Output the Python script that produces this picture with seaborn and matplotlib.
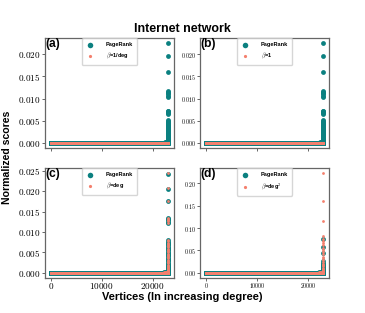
import numpy as np
import matplotlib
matplotlib.use("Agg")
import matplotlib.pyplot as plt
from matplotlib.ticker import FuncFormatter, MultipleLocator
import seaborn as sns

#%% data (scores sorted by vertex degree)

n_vertices = 22963

# ranks counted from the highest-degree vertex for the small rise before the column
elbow_ranks = [1100, 800, 550, 350, 200, 100]

# (a) and (b): PageRank, highest scores first
pagerank_ab_base = 2.2e-5
pagerank_ab_elbow = [5e-5, 7e-5, 9e-5, 1.2e-4, 1.5e-4, 1.9e-4]
pagerank_ab_top = [0.0226, 0.0197, 0.0160, 0.0118, 0.0116, 0.0113, 0.0110, 0.0107,
                   0.0104, 0.0073, 0.0071, 0.0069, 0.0067, 0.0065, 0.0051, 0.0049,
                   0.0047, 0.0045, 0.0043, 0.0041, 0.0039, 0.0037, 0.0035, 0.0033,
                   0.0031, 0.0029, 0.0027, 0.0025, 0.0023, 0.0021, 0.0019, 0.0017,
                   0.0015, 0.0013, 0.0011, 0.0009, 0.0008, 0.0007, 0.0006, 0.0005,
                   0.0004, 0.0003, 0.0002]

# (a) beta = 1/deg and (b) beta = 1 stay flat
beta_inv_deg_base = 4.5e-5
beta_one_base = 4.35e-5

# (c) beta = deg
pagerank_c_base = 2.0e-5
pagerank_c_elbow = [5e-5, 7e-5, 1.0e-4, 1.3e-4, 1.7e-4, 2.2e-4]
pagerank_c_top = [0.0243, 0.0205, 0.0175, 0.0134, 0.0131, 0.0128, 0.0125, 0.0122,
                  0.0079, 0.0076, 0.0073, 0.0070, 0.0067, 0.0064, 0.0061, 0.0058,
                  0.0055, 0.0052, 0.0049, 0.0046, 0.0043, 0.0040, 0.0037, 0.0034,
                  0.0031, 0.0028, 0.0025, 0.0022, 0.0019, 0.0016, 0.0013, 0.0011,
                  0.0009, 0.0007, 0.0005, 0.0004, 0.0003, 0.0002]
beta_deg_base = 2.0e-5
beta_deg_elbow = [5e-5, 7e-5, 1.0e-4, 1.3e-4, 1.7e-4, 2.2e-4]
beta_deg_top = [0.0245, 0.0207, 0.0175, 0.0135, 0.0132, 0.0129, 0.0126, 0.0123,
                0.0080, 0.0077, 0.0074, 0.0071, 0.0068, 0.0065, 0.0062, 0.0059,
                0.0056, 0.0053, 0.0050, 0.0047, 0.0044, 0.0041, 0.0038, 0.0035,
                0.0032, 0.0029, 0.0026, 0.0023, 0.0020, 0.0017, 0.0014, 0.0011,
                0.0009, 0.0007, 0.0005, 0.0004, 0.0003, 0.0002]

# (d) beta = deg^2
pagerank_d_base = 1.5e-5
pagerank_d_elbow = [3e-4, 5e-4, 7e-4, 1.0e-3, 1.4e-3, 2.0e-3]
pagerank_d_top = [0.0750, 0.0580, 0.0430, 0.0250, 0.0225, 0.0200, 0.0180, 0.0160,
                  0.0140, 0.0120, 0.0100, 0.0085, 0.0070, 0.0055, 0.0045, 0.0035,
                  0.0025, 0.0018, 0.0012, 0.0008, 0.0005]
beta_deg2_base = 1.0e-5
beta_deg2_elbow = [3e-4, 5e-4, 7e-4, 1.0e-3, 1.4e-3, 2.0e-3]
beta_deg2_top = [0.2240, 0.1600, 0.1155, 0.0820, 0.0760, 0.0700, 0.0660, 0.0620,
                 0.0560, 0.0510, 0.0460, 0.0410, 0.0360, 0.0320, 0.0280, 0.0240,
                 0.0200, 0.0170, 0.0140, 0.0110, 0.0085, 0.0065, 0.0045, 0.0030]

panel_tags = ["(a)", "(b)", "(c)", "(d)"]
beta_labels = [r"$\beta$=1/deg", r"$\beta$=1", r"$\beta$=deg", r"$\beta$=deg$^2$"]
ytick_step = [0.005, 0.005, 0.005, 0.05]
ytick_decimals = [3, 3, 3, 2]
xtick_values = [0, 10000, 20000]


def build_scores(base, elbow, top):
    s = np.full(n_vertices, base)
    for r, v in zip(elbow_ranks, elbow):
        s[n_vertices - r] = v
    s[n_vertices - len(top):] = top[::-1]
    return s


#%% setup

sns.set_theme(style="ticks")
plt.rcParams["font.family"] = ["Liberation Sans", "DejaVu Sans"]
plt.rcParams["mathtext.fontset"] = "cm"
plt.rcParams["axes.edgecolor"] = "0.4"
plt.rcParams["axes.linewidth"] = 0.9
plt.rcParams["text.color"] = "black"
plt.rcParams["xtick.labelcolor"] = "black"
plt.rcParams["ytick.labelcolor"] = "black"

teal = "#0b8080"
salmon = "#f4806e"

panels = [
    (build_scores(pagerank_ab_base, pagerank_ab_elbow, pagerank_ab_top),
     np.full(n_vertices, beta_inv_deg_base)),
    (build_scores(pagerank_ab_base, pagerank_ab_elbow, pagerank_ab_top),
     np.full(n_vertices, beta_one_base)),
    (build_scores(pagerank_c_base, pagerank_c_elbow, pagerank_c_top),
     build_scores(beta_deg_base, beta_deg_elbow, beta_deg_top)),
    (build_scores(pagerank_d_base, pagerank_d_elbow, pagerank_d_top),
     build_scores(beta_deg2_base, beta_deg2_elbow, beta_deg2_top)),
]

fig = plt.figure(figsize=(3.65, 3.13), dpi=100)
lefts = [0.123, 0.548, 0.123, 0.548]
bottoms = [0.528, 0.528, 0.113, 0.113]
vertex = np.arange(n_vertices)

for i, (pr, bt) in enumerate(panels):
    ax = fig.add_axes([lefts[i], bottoms[i], 0.353, 0.351])
    sns.scatterplot(x=vertex, y=pr, color=teal, s=12, linewidth=0,
                    label="PageRank", ax=ax)
    sns.scatterplot(x=vertex, y=bt, color=salmon, s=4, linewidth=0,
                    label=beta_labels[i], ax=ax)
    ax.set_xticks(xtick_values)
    ax.yaxis.set_major_locator(MultipleLocator(ytick_step[i]))
    nd = ytick_decimals[i]
    ax.yaxis.set_major_formatter(FuncFormatter(lambda v, p, nd=nd: f"${v:.{nd}f}$"))
    ax.xaxis.set_major_formatter(FuncFormatter(lambda v, p: f"${v:.0f}$"))
    small = i % 2 == 1
    ax.tick_params(labelsize=4.2 if small else 6.6, length=2.2, width=0.6,
                   pad=0.8, color="0.3")
    ax.tick_params(axis="x", pad=0.3)
    if i < 2:
        ax.tick_params(labelbottom=False)
    ax.text(0.005, 0.995, panel_tags[i], transform=ax.transAxes,
            ha="left", va="top", fontsize=8.7, fontweight="bold")
    ax.legend(loc="upper center", bbox_to_anchor=(0.5, 1.0), borderaxespad=0.1,
              prop={"size": 4.1, "weight": "bold"}, borderpad=0.7,
              handlelength=1.6, handletextpad=1.9, labelspacing=0.6,
              markerscale=1.15, frameon=True)

fig.text(0.4986, 0.899, "Internet network", ha="center", va="baseline",
         fontsize=8.9, fontweight="bold")
fig.text(0.019, 0.498, "Normalized scores", ha="center", va="center",
         rotation=90, fontsize=7.6, fontweight="bold")
fig.text(0.498, 0.043, "Vertices (In increasing degree)", ha="center",
         va="baseline", fontsize=7.9, fontweight="bold")

fig.savefig("out.png", dpi=100)
